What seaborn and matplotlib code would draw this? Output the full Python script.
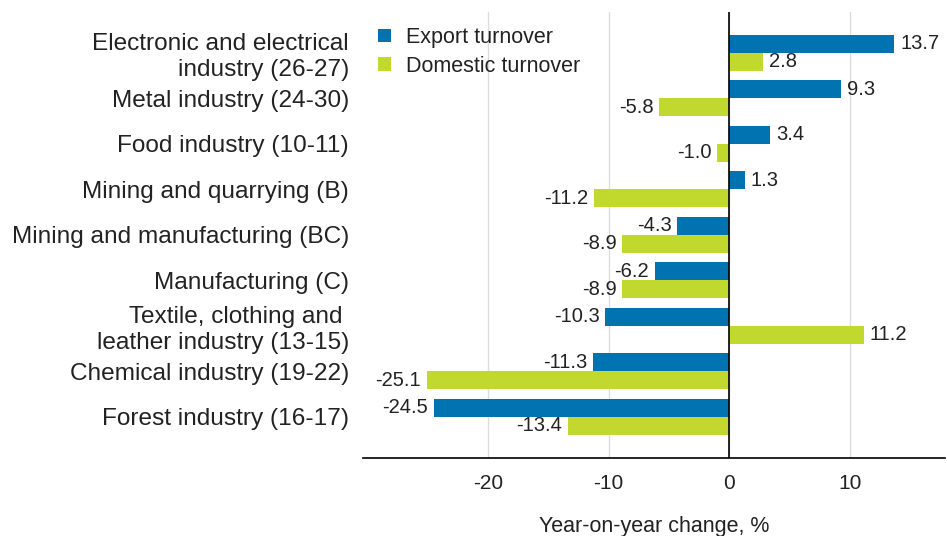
import matplotlib
matplotlib.use("Agg")
import matplotlib.pyplot as plt
import seaborn as sns
import pandas as pd

categories = [
    "Electronic and electrical\nindustry (26-27)",
    "Metal industry (24-30)",
    "Food industry (10-11)",
    "Mining and quarrying (B)",
    "Mining and manufacturing (BC)",
    "Manufacturing (C)",
    "Textile, clothing and \nleather industry (13-15)",
    "Chemical industry (19-22)",
    "Forest industry (16-17)",
]
export_turnover = [13.7, 9.3, 3.4, 1.3, -4.3, -6.2, -10.3, -11.3, -24.5]
domestic_turnover = [2.8, -5.8, -1.0, -11.2, -8.9, -8.9, 11.2, -25.1, -13.4]
series_names = ["Export turnover", "Domestic turnover"]
x_ticks = [-20, -10, 0, 10]
x_label = "Year-on-year change, %"

df = pd.DataFrame({
    "category": categories * 2,
    "value": export_turnover + domestic_turnover,
    "series": [series_names[0]] * len(categories) + [series_names[1]] * len(categories),
})

sns.set_style("white")
plt.rcParams["font.family"] = ["Liberation Sans", "DejaVu Sans"]

fig = plt.figure(figsize=(9.47, 5.36), dpi=100)
ax = fig.add_axes([0.383, 0.146, 0.615, 0.832])

palette = {series_names[0]: "#0073B0", series_names[1]: "#C1D82F"}
sns.barplot(data=df, y="category", x="value", hue="series", order=categories,
            hue_order=series_names, palette=palette, orient="h", width=0.8,
            saturation=1, linewidth=0, ax=ax, zorder=3)

for cont in ax.containers:
    labels = [f"{v:.1f}" for v in cont.datavalues]
    ax.bar_label(cont, labels=labels, padding=4, fontsize=14.5, color="#222222")

ax.set_xlim(-30.4, 17.9)
ax.set_ylim(8.9, -0.9)
ax.set_xticks(x_ticks)
ax.set_xticklabels([str(t) for t in x_ticks], fontsize=15, color="#222222")
ax.tick_params(axis="x", length=0, pad=12)
ax.tick_params(axis="y", length=0, pad=10, labelsize=17.6, labelcolor="#222222")
ax.set_xlabel(x_label, fontsize=15.5, color="#222222", labelpad=16)
ax.set_ylabel("")

ax.grid(axis="x", color="#dcdcdc", linewidth=1, zorder=0)
ax.axvline(0, color="black", linewidth=1.2, zorder=4)
for s in ["top", "right", "left"]:
    ax.spines[s].set_visible(False)
ax.spines["bottom"].set_color("black")
ax.spines["bottom"].set_linewidth(1.2)

leg = ax.legend(loc="upper left", bbox_to_anchor=(0.004, 0.995), frameon=False,
                fontsize=15.5, handlelength=0.6, handleheight=0.6,
                handletextpad=0.7, labelspacing=0.36, borderaxespad=0.2)
for t in leg.get_texts():
    t.set_color("#222222")

fig.savefig("out.png", dpi=100)
